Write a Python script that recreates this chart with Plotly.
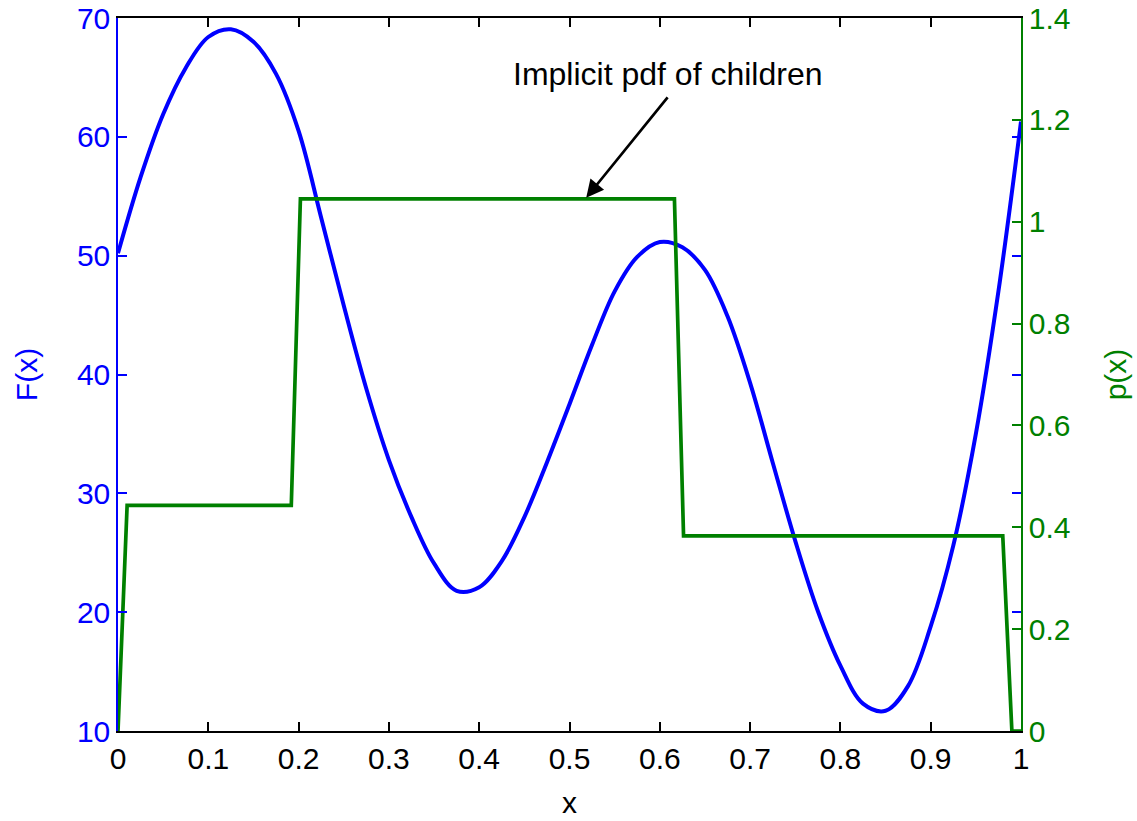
import plotly.graph_objects as go

# ---- data ----
x_F = [0.000, 0.025, 0.050, 0.075, 0.100, 0.125, 0.150, 0.175, 0.200, 0.225,
       0.250, 0.275, 0.300, 0.325, 0.350, 0.375, 0.400, 0.425, 0.450, 0.475,
       0.500, 0.525, 0.550, 0.575, 0.600, 0.625, 0.650, 0.675, 0.700, 0.725,
       0.750, 0.775, 0.800, 0.825, 0.850, 0.875, 0.900, 0.925, 0.950, 0.975, 1.000]
F_vals = [50.2, 56.6, 61.9, 65.8, 68.4, 69.05, 68.0, 65.3, 60.5, 53.2,
          45.8, 38.8, 32.8, 28.0, 24.1, 21.8, 22.1, 24.3, 28.0, 32.6,
          37.5, 42.5, 47.0, 49.9, 51.15, 50.7, 48.8, 44.9, 39.3, 32.6,
          26.0, 20.1, 15.5, 12.3, 11.7, 13.8, 18.8, 25.6, 35.0, 47.0, 61.3]

x_p = [0.0, 0.0101, 0.1919, 0.2020, 0.6162, 0.6263, 0.9798, 0.9899, 1.0]
p_vals = [0.0, 0.443, 0.443, 1.045, 1.045, 0.383, 0.383, 0.0, 0.0]

x_ticks = [0, 0.1, 0.2, 0.3, 0.4, 0.5, 0.6, 0.7, 0.8, 0.9, 1.0]
x_ticktext = ["0", "0.1", "0.2", "0.3", "0.4", "0.5", "0.6", "0.7", "0.8", "0.9", "1"]
yF_ticks = [10, 20, 30, 40, 50, 60, 70]
yp_ticks = [0, 0.2, 0.4, 0.6, 0.8, 1.0, 1.2, 1.4]
yp_ticktext = ["0", "0.2", "0.4", "0.6", "0.8", "1", "1.2", "1.4"]

annot_text = "Implicit pdf of children"
annot_tip = (0.5185, 1.047)
annot_tail = (0.61, 1.247)
annot_label_pos = (0.6085, 1.29)

BLUE = "#0000FF"
GREEN = "#008000"
FONT = "Liberation Sans, Arial, Helvetica, sans-serif"

fig = go.Figure()
fig.add_trace(go.Scatter(x=x_F, y=F_vals, mode="lines",
                         line=dict(color=BLUE, width=4.0, shape="spline", smoothing=1.0),
                         yaxis="y", showlegend=False, hoverinfo="skip"))
fig.add_trace(go.Scatter(x=x_p, y=p_vals, mode="lines", line=dict(color=GREEN, width=3.7),
                         yaxis="y2", showlegend=False, hoverinfo="skip"))

fig.update_layout(
    width=1137, height=821,
    margin=dict(l=118, r=116, t=18, b=90, autoexpand=False),
    paper_bgcolor="white", plot_bgcolor="white",
    font=dict(family=FONT, size=30, color="black"),
    xaxis=dict(range=[0, 1], tickvals=x_ticks, ticktext=x_ticktext, ticks="inside", ticklen=9,
               tickwidth=1.5, tickcolor="black", showline=True, linecolor="black", linewidth=1.5,
               mirror="ticks", showgrid=False, zeroline=False, automargin=False,
               tickfont=dict(size=30, color="black"),
               title=dict(text="x", font=dict(size=30, color="black"), standoff=18)),
    yaxis=dict(range=[10, 70], tickvals=yF_ticks, ticks="inside", ticklen=9, tickwidth=1.5,
               tickcolor=BLUE, showline=True, linecolor=BLUE, linewidth=1.5, mirror="ticks",
               showgrid=False, zeroline=False, automargin=False, tickfont=dict(size=30, color=BLUE),
               title=dict(text="F(x)", font=dict(size=30, color=BLUE), standoff=30)),
    yaxis2=dict(range=[0, 1.4], tickvals=yp_ticks, ticktext=yp_ticktext, overlaying="y", side="right",
                ticks="inside", ticklen=9, tickwidth=1.5, tickcolor=GREEN, showline=True,
                linecolor=GREEN, linewidth=1.5, showgrid=False, zeroline=False, automargin=False,
                tickfont=dict(size=30, color=GREEN),
                title=dict(text="p(x)", font=dict(size=30, color=GREEN), standoff=36)),
)

fig.add_annotation(x=annot_label_pos[0], y=annot_label_pos[1], xref="x", yref="y2", text=annot_text,
                   showarrow=False, font=dict(size=32, color="black"), xanchor="center", yanchor="middle")
fig.add_annotation(x=annot_tip[0], y=annot_tip[1], xref="x", yref="y2",
                   ax=annot_tail[0], ay=annot_tail[1], axref="x", ayref="y2", text="",
                   showarrow=True, arrowhead=2, arrowsize=1.3, arrowwidth=2.7, arrowcolor="black")

fig.write_html("out.html")
